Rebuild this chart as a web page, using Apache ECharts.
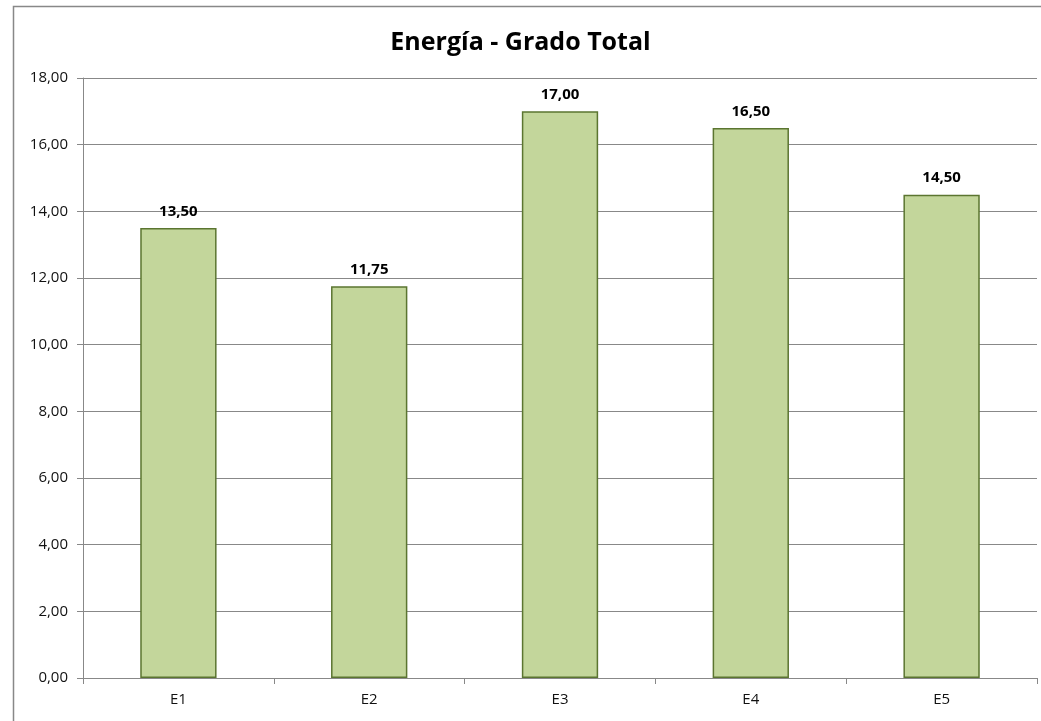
<!DOCTYPE html>
<html><head><meta charset="utf-8">
<script src="https://cdn.jsdelivr.net/npm/echarts@6/dist/echarts.min.js"></script>
<style>html,body{margin:0;padding:0;background:#fff}#c{width:1041px;height:721px}</style>
</head><body><div id="c"></div>
<script>
const categories = ['E1','E2','E3','E4','E5'];
const values = [13.50, 11.75, 17.00, 16.50, 14.50];
const titleText = 'Energía - Grado Total';
const fmt = v => v.toFixed(2).replace('.', ',');
const chart = echarts.init(document.getElementById('c'), null, {renderer:'canvas'});
const font = 'Open Sans, Liberation Sans, sans-serif';
chart.setOption({
  animation:false,
  backgroundColor:'#fff',
  textStyle:{fontFamily:font},
  graphic:[{type:'rect',left:11,top:4,shape:{width:1040,height:730},style:{fill:'none',stroke:'#888',lineWidth:1.5},silent:true}],
  title:{text:titleText,left:'center',top:25,itemGap:0,textStyle:{fontSize:25,fontWeight:'bold',color:'#000',fontFamily:font}},
  grid:{left:83,right:4,top:78,bottom:43,containLabel:false},
  xAxis:{type:'category',data:categories,
    axisLine:{lineStyle:{color:'#888',width:1}},
    axisTick:{show:true,length:6,lineStyle:{color:'#888'}},
    axisLabel:{color:'#111',fontSize:15,margin:14,fontFamily:font}},
  yAxis:{type:'value',min:0,max:18,interval:2,
    axisLine:{show:true,lineStyle:{color:'#888'}},
    axisTick:{show:true,length:6,lineStyle:{color:'#888'}},
    splitLine:{lineStyle:{color:'#888',width:1}},
    axisLabel:{color:'#111',fontSize:15,margin:15,formatter:v=>fmt(v),fontFamily:font}},
  series:[{type:'bar',data:values,barWidth:'40%',
    itemStyle:{color:'#c3d69b',borderColor:'#5b7530',borderWidth:1.5},
    label:{show:true,position:'top',distance:9,fontWeight:'bold',fontSize:15,color:'#000',formatter:p=>fmt(p.value),fontFamily:font}}]
});
</script></body></html>
